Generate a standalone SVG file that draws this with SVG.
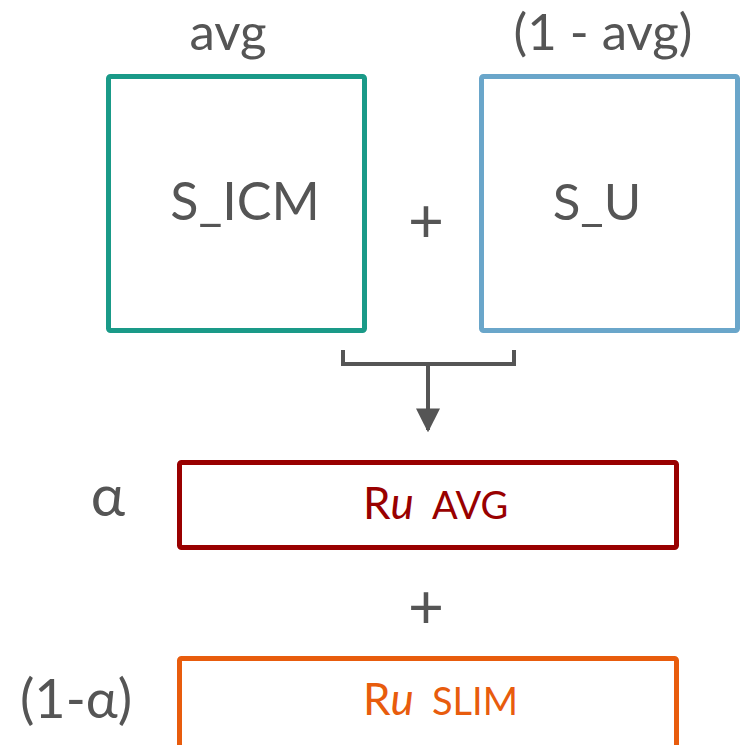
<svg xmlns="http://www.w3.org/2000/svg" width="746" height="745" viewBox="0 0 746 745">
<defs>
<style>
text{font-family:Lato,"Open Sans","Liberation Sans",sans-serif;fill:#555}
.box{fill:#fff;stroke-width:5}
.lbl{font-size:51px;text-anchor:middle}
.plus{font-size:62px;text-anchor:middle}
.conn{fill:none;stroke:#555;stroke-width:4}
</style>
<marker id="arr" viewBox="0 0 10 10" refX="9" refY="5" markerWidth="6" markerHeight="6" markerUnits="strokeWidth" orient="auto"><path d="M0,0 L10,5 L0,10 z" fill="#555"/></marker>
</defs>
<g id="label-avg"><text class="lbl" x="228" y="50">avg</text></g>
<g id="label-1mavg"><text class="lbl" x="603" y="50">(1 - avg)</text></g>
<g id="s_icm"><rect class="box" x="108.5" y="76.5" width="256" height="254" rx="2" stroke="#1a9a88"/><text class="lbl" x="245" y="220" style="font-size:52px">S_ICM</text></g>
<g id="plus1"><text class="plus" x="426" y="242">+</text></g>
<g id="s_u"><rect class="box" x="481.5" y="76.5" width="256" height="254" rx="2" stroke="#6aa6ca"/><text class="lbl" x="597" y="220">S_U</text></g>
<g id="connectors">
<path class="conn" d="M343,350 V364 H514 V350"/>
<path class="conn" d="M428,364 V430" marker-end="url(#arr)"/>
</g>
<g id="label-alpha"><text class="lbl" x="108" y="516" style="font-size:58px">α</text></g>
<g id="ru_avg"><rect class="box" x="179.5" y="462.5" width="497" height="85" rx="2" stroke="#990000"/><text x="363" y="519" style="fill:#990000;font-size:44px">R<tspan font-style="italic">u</tspan><tspan dx="18" style="font-size:38px">AVG</tspan></text></g>
<g id="plus2"><text class="plus" x="426" y="628">+</text></g>
<g id="label-1malpha"><text class="lbl" x="76" y="718" style="font-size:54px">(1-α)</text></g>
<g id="ru_slim"><rect class="box" x="179.5" y="658.5" width="497" height="95" rx="2" stroke="#e85c0d"/><text x="363" y="715" style="fill:#e85c0d;font-size:44px">R<tspan font-style="italic">u</tspan><tspan dx="18" style="font-size:38px">SLIM</tspan></text></g>
</svg>
